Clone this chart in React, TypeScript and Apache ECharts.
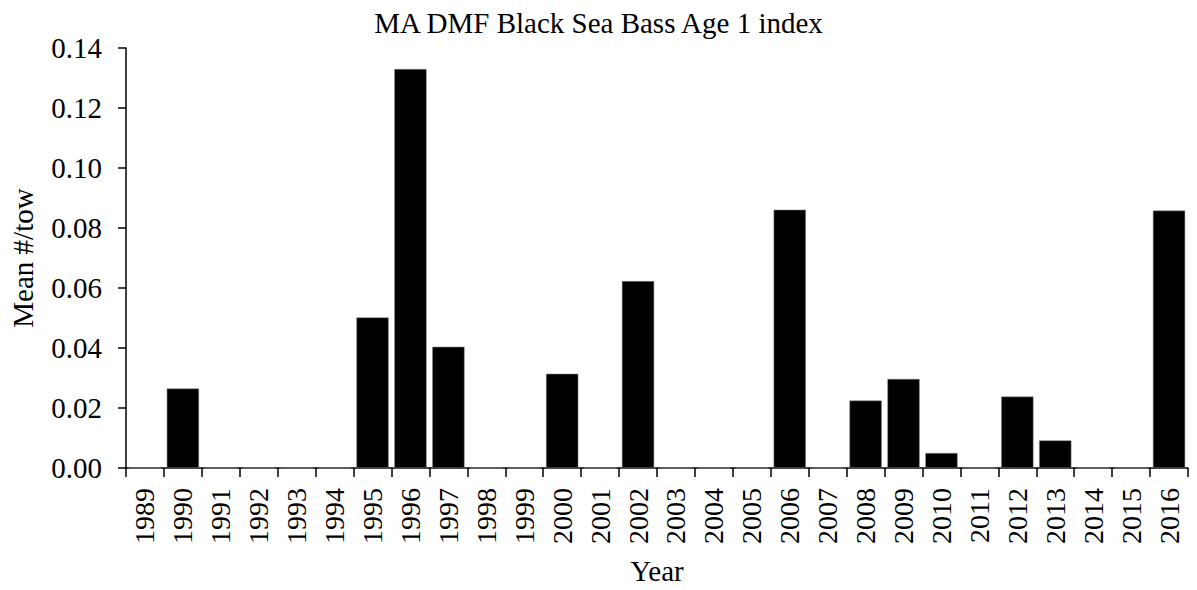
import React, { useEffect, useRef } from "react";
import * as echarts from "echarts";

const years = ["1989","1990","1991","1992","1993","1994","1995","1996","1997","1998","1999","2000","2001","2002","2003","2004","2005","2006","2007","2008","2009","2010","2011","2012","2013","2014","2015","2016"];
const meanPerTow = [0, 0.0265, 0, 0, 0, 0, 0.0502, 0.1330, 0.0404, 0, 0, 0.0314, 0, 0.0623, 0, 0, 0, 0.0861, 0, 0.0225, 0.0297, 0.0050, 0, 0.0238, 0.0092, 0, 0, 0.0858];
const titleText = "MA DMF Black Sea Bass Age 1 index";
const yName = "Mean #/tow";
const xName = "Year";

const FONT = "'Liberation Serif', 'Times New Roman', serif";

export default function App() {
  const ref = useRef<HTMLDivElement>(null);
  useEffect(() => {
    if (!ref.current) return;
    const chart = echarts.init(ref.current, null, { renderer: "svg" });
    chart.setOption({
      animation: false,
      backgroundColor: "#ffffff",
      title: {
        text: titleText,
        left: "center",
        top: 3,
        textStyle: { fontFamily: FONT, fontSize: 29, fontWeight: "normal", color: "#000" },
      },
      grid: { left: 123, right: 9, top: 48, bottom: 119, containLabel: false },
      xAxis: {
        type: "category",
        data: years,
        name: xName,
        nameLocation: "middle",
        nameGap: 88,
        nameTextStyle: { fontFamily: FONT, fontSize: 29, color: "#000" },
        axisLine: { lineStyle: { color: "#000", width: 1.5 } },
        axisTick: { show: true, length: 9, lineStyle: { color: "#000", width: 1.5 } },
        axisLabel: { rotate: 90, margin: 20, fontFamily: FONT, fontSize: 28, color: "#000", interval: 0 },
      },
      yAxis: {
        type: "value",
        min: 0,
        max: 0.14,
        interval: 0.02,
        name: yName,
        nameLocation: "middle",
        nameGap: 89,
        nameTextStyle: { fontFamily: FONT, fontSize: 29, color: "#000" },
        axisLine: { show: true, lineStyle: { color: "#000", width: 1.5 } },
        axisTick: { show: true, length: 8, lineStyle: { color: "#000", width: 1.5 } },
        splitLine: { show: false },
        axisLabel: {
          margin: 24,
          fontFamily: FONT,
          fontSize: 29,
          color: "#000",
          formatter: (v: number) => v.toFixed(2),
        },
      },
      series: [
        {
          type: "bar",
          data: meanPerTow,
          barCategoryGap: "15%",
          itemStyle: { color: "#000", borderColor: "#888", borderWidth: 0.5 },
        },
      ],
    });
    return () => chart.dispose();
  }, []);
  return <div ref={ref} style={{ position: "fixed", left: 0, top: 0, width: 1197, height: 590 }} />;
}
